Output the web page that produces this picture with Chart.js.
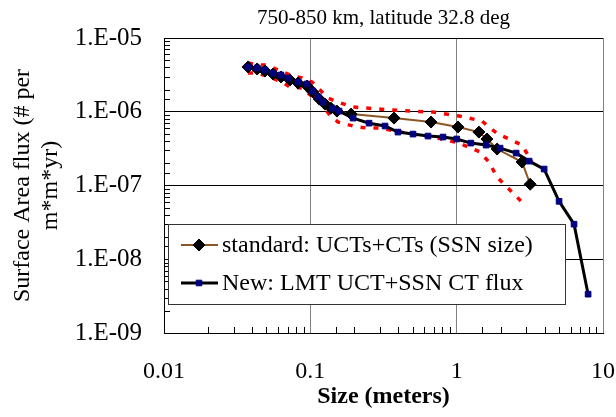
<!DOCTYPE html>
<html>
<head>
<meta charset="utf-8">
<script src="https://cdn.jsdelivr.net/npm/chart.js@4"></script>
<style>
  body { margin: 0; background: #fff; }
  #wrap { width: 616px; height: 417px; }
</style>
</head>
<body>
<div id="wrap"><canvas id="chart"></canvas></div>
<script>
// size (m) and flux (#/m^2/yr)
var sizeNew = [0.0375, 0.0433, 0.049, 0.0556, 0.063, 0.0705, 0.0824, 0.0949, 0.104, 0.113, 0.122, 0.141, 0.157, 0.196, 0.252, 0.324, 0.397, 0.503, 0.637, 0.807, 1.0, 1.25, 1.59, 1.98, 2.55, 3.13, 3.96, 5.01, 6.34, 7.91];
var fluxNew = [4.05e-6, 3.92e-6, 3.68e-6, 3.35e-6, 3.15e-6, 2.86e-6, 2.53e-6, 2.38e-6, 1.91e-6, 1.58e-6, 1.35e-6, 1.12e-6, 1.02e-6, 8.2e-7, 7.0e-7, 6.4e-7, 5.3e-7, 4.98e-7, 4.68e-7, 4.54e-7, 4.27e-7, 3.76e-7, 3.53e-7, 3.21e-7, 2.75e-7, 2.14e-7, 1.67e-7, 6.1e-8, 2.99e-8, 3.36e-9];

var sizeStd = [0.0375, 0.0433, 0.049, 0.0556, 0.063, 0.0726, 0.0824, 0.0949, 0.104, 0.115, 0.126, 0.138, 0.152, 0.190, 0.373, 0.668, 1.02, 1.42, 1.61, 1.89, 2.80, 3.18];
var fluxStd = [4.05e-6, 3.8e-6, 3.57e-6, 3.25e-6, 2.96e-6, 2.69e-6, 2.45e-6, 2.23e-6, 1.85e-6, 1.49e-6, 1.27e-6, 1.12e-6, 1.02e-6, 9.3e-7, 8.2e-7, 7.25e-7, 6.2e-7, 5.3e-7, 4.27e-7, 3.12e-7, 2.08e-7, 1.04e-7];

var sizeUpper = [0.0375, 0.0439, 0.0506, 0.0601, 0.0726, 0.0877, 0.1027, 0.1165, 0.132, 0.1546, 0.196, 0.290, 0.480, 0.690, 1.04, 1.49, 1.66, 1.92, 2.28, 2.80, 3.27];
var fluxUpper = [4.58e-6, 4.30e-6, 4.30e-6, 3.68e-6, 3.15e-6, 2.87e-6, 2.53e-6, 1.97e-6, 1.53e-6, 1.35e-6, 1.16e-6, 1.09e-6, 1.02e-6, 9.9e-7, 8.75e-7, 7.48e-7, 6.2e-7, 4.98e-7, 4.27e-7, 3.53e-7, 2.08e-7];

var sizeLower = [0.0375, 0.0439, 0.0547, 0.0641, 0.0726, 0.0877, 0.104, 0.122, 0.136, 0.1546, 0.196, 0.244, 0.299, 0.379, 0.545, 0.690, 1.04, 1.445, 1.66, 1.89, 2.21, 2.84];
var fluxLower = [3.35e-6, 3.35e-6, 2.87e-6, 2.53e-6, 2.16e-6, 2.10e-6, 1.58e-6, 1.19e-6, 9.0e-7, 7.25e-7, 6.4e-7, 6.0e-7, 6.0e-7, 5.47e-7, 4.83e-7, 4.54e-7, 3.76e-7, 2.84e-7, 2.08e-7, 1.30e-7, 9.5e-8, 5.77e-8];

var xTicks = [0.01, 0.1, 1, 10];
var yTicks = [1e-9, 1e-8, 1e-7, 1e-6, 1e-5];
var yTickLabels = ['1.E-09', '1.E-08', '1.E-07', '1.E-06', '1.E-05'];
var chartTitle = '750-850 km, latitude 32.8 deg';

var SERIF = "'Liberation Serif', 'Times New Roman', serif";
var BROWN = '#8B5524';
var NAVY = '#000080';

function pairs(xs, ys) {
  return xs.map(function (x, i) { return { x: x, y: ys[i] }; });
}
function isDecade(v) {
  var l = Math.log10(v);
  return Math.abs(l - Math.round(l)) < 1e-6;
}

// title centred over the plot area, like the Excel original
var plotTitle = {
  id: 'plotTitle',
  afterDraw: function (chart) {
    var ctx = chart.ctx, a = chart.chartArea;
    ctx.save();
    ctx.font = '21px ' + SERIF;
    ctx.fillStyle = '#000';
    ctx.textAlign = 'center';
    ctx.textBaseline = 'middle';
    ctx.fillText(chartTitle, (a.left + a.right) / 2, a.top - 20);
    ctx.restore();
  }
};

// small inward ticks at the non-decade log positions
var minorTicks = {
  id: 'minorTicks',
  afterDraw: function (chart) {
    var ctx = chart.ctx, a = chart.chartArea;
    ctx.save();
    ctx.strokeStyle = '#000';
    ctx.lineWidth = 1;
    chart.scales.x.ticks.forEach(function (t) {
      if (isDecade(t.value)) return;
      var px = Math.round(chart.scales.x.getPixelForValue(t.value)) + 0.5;
      ctx.beginPath(); ctx.moveTo(px, a.bottom); ctx.lineTo(px, a.bottom - 6); ctx.stroke();
    });
    chart.scales.y.ticks.forEach(function (t) {
      if (isDecade(t.value)) return;
      var py = Math.round(chart.scales.y.getPixelForValue(t.value)) + 0.5;
      ctx.beginPath(); ctx.moveTo(a.left, py); ctx.lineTo(a.left + 6, py); ctx.stroke();
    });
    ctx.restore();
  }
};

// Excel style legend box in the lower left of the plot
var boxLegend = {
  id: 'boxLegend',
  afterDraw: function (chart) {
    var ctx = chart.ctx, a = chart.chartArea;
    var left = a.left + 4, top = a.bottom - 109, w = 397, h = 80;
    ctx.save();
    ctx.fillStyle = '#fff';
    ctx.fillRect(left, top, w, h);
    ctx.strokeStyle = '#333';
    ctx.lineWidth = 1;
    ctx.strokeRect(left + 0.5, top + 0.5, w, h);
    ctx.font = '24px ' + SERIF;
    ctx.textBaseline = 'middle';
    var rows = [
      { ds: chart.data.datasets[0], y: top + 21 },
      { ds: chart.data.datasets[1], y: top + 59 }
    ];
    rows.forEach(function (r) {
      var d = r.ds, cx = left + 31;
      ctx.strokeStyle = d.borderColor;
      ctx.lineWidth = d.borderWidth;
      ctx.beginPath(); ctx.moveTo(left + 13, r.y); ctx.lineTo(left + 50, r.y); ctx.stroke();
      ctx.fillStyle = d.pointBackgroundColor;
      ctx.strokeStyle = d.pointBorderColor;
      ctx.lineWidth = d.pointBorderWidth;
      ctx.beginPath();
      if (d.pointStyle === 'rectRot') {
        var s = d.pointRadius;
        ctx.moveTo(cx, r.y - s); ctx.lineTo(cx + s, r.y);
        ctx.lineTo(cx, r.y + s); ctx.lineTo(cx - s, r.y);
      } else {
        var q = d.pointRadius * 0.7;
        ctx.rect(cx - q, r.y - q, 2 * q, 2 * q);
      }
      ctx.closePath(); ctx.fill(); ctx.stroke();
      ctx.fillStyle = '#000';
      ctx.fillText(d.label, left + 54, r.y + 1);
    });
    ctx.restore();
  }
};

new Chart(document.getElementById('chart').getContext('2d'), {
  type: 'scatter',
  data: {
    datasets: [
      {
        label: 'standard: UCTs+CTs (SSN size)',
        data: pairs(sizeStd, fluxStd),
        showLine: true,
        borderColor: BROWN,
        borderWidth: 2,
        pointStyle: 'rectRot',
        pointRadius: 6,
        pointBorderWidth: 1,
        pointBackgroundColor: '#000',
        pointBorderColor: '#000',
        order: 1
      },
      {
        label: 'New: LMT UCT+SSN CT flux',
        data: pairs(sizeNew, fluxNew),
        showLine: true,
        borderColor: '#000',
        borderWidth: 3,
        pointStyle: 'rect',
        pointRadius: 4,
        pointBorderWidth: 1,
        pointBackgroundColor: NAVY,
        pointBorderColor: NAVY,
        order: 0
      },
      {
        label: 'upper',
        data: pairs(sizeUpper, fluxUpper),
        showLine: true,
        borderColor: '#FF0000',
        borderWidth: 3.5,
        borderDash: [5, 8],
        pointRadius: 0,
        order: 2
      },
      {
        label: 'lower',
        data: pairs(sizeLower, fluxLower),
        showLine: true,
        borderColor: '#FF0000',
        borderWidth: 3.5,
        borderDash: [5, 8],
        pointRadius: 0,
        order: 2
      }
    ]
  },
  options: {
    responsive: true,
    maintainAspectRatio: false,
    animation: false,
    layout: { padding: { left: 0, right: 13, top: 38, bottom: 0 } },
    scales: {
      x: {
        type: 'logarithmic',
        min: 0.01,
        max: 10,
        afterFit: function (s) { s.height = 84; s.paddingLeft = 0; s.paddingRight = 0; },
        border: { display: true, color: '#000', width: 1 },
        grid: {
          drawTicks: false,
          color: function (c) { return c.tick && isDecade(c.tick.value) ? '#808080' : 'rgba(0,0,0,0)'; }
        },
        ticks: {
          autoSkip: false,
          maxRotation: 0,
          padding: 24,
          color: '#000',
          font: { family: SERIF, size: 24 },
          callback: function (v) {
            for (var i = 0; i < xTicks.length; i++) {
              if (Math.abs(v - xTicks[i]) < xTicks[i] * 1e-6) return String(xTicks[i]);
            }
            return '';
          }
        },
        title: {
          display: true,
          text: 'Size (meters)',
          color: '#000',
          font: { family: SERIF, size: 24, weight: 'bold' },
          padding: { top: 0, bottom: 6 }
        }
      },
      y: {
        type: 'logarithmic',
        min: 1e-9,
        max: 1e-5,
        afterFit: function (s) { s.width = 164; s.paddingTop = 0; s.paddingBottom = 0; },
        border: { display: true, color: '#000', width: 1 },
        grid: {
          drawTicks: false,
          color: function (c) { return c.tick && isDecade(c.tick.value) ? '#000' : 'rgba(0,0,0,0)'; }
        },
        ticks: {
          autoSkip: false,
          padding: 22,
          color: '#000',
          font: { family: SERIF, size: 25 },
          callback: function (v) {
            for (var i = 0; i < yTicks.length; i++) {
              if (Math.abs(v - yTicks[i]) < yTicks[i] * 1e-6) return yTickLabels[i];
            }
            return '';
          }
        },
        title: {
          display: true,
          text: ['Surface Area flux (# per', 'm*m*yr)'],
          color: '#000',
          font: { family: SERIF, size: 24, lineHeight: 1.2 },
          padding: { top: 8, bottom: 0 }
        }
      }
    },
    plugins: {
      legend: { display: false },
      tooltip: { enabled: false },
      title: { display: false }
    }
  },
  plugins: [plotTitle, minorTicks, boxLegend]
});
</script>
</body>
</html>
